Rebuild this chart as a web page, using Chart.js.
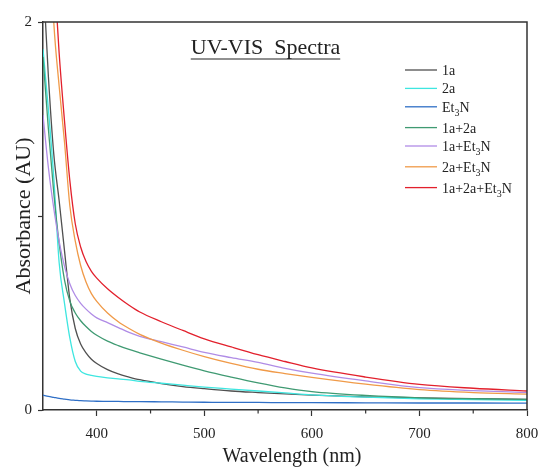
<!DOCTYPE html>
<html>
<head>
<meta charset="utf-8">
<script src="https://cdn.jsdelivr.net/npm/chart.js@4"></script>
<style>
html, body { margin: 0; padding: 0; background: #fff; }
</style>
</head>
<body>
<canvas id="uvChart" width="540" height="468"></canvas>
<script>
// wavelength grid (nm)
const wavelengths = [350, 355, 360, 365, 370, 375, 380, 385, 390, 395, 400, 410, 420, 430, 440, 460, 480, 500, 525, 550, 575, 600, 650, 700, 750, 800];

// absorbance (null = not drawn)
const abs1a      = [2.25, 1.72, 1.32, 1.08, 0.82, 0.57, 0.42, 0.34, 0.295, 0.262, 0.24, 0.208, 0.186, 0.17, 0.156, 0.136, 0.121, 0.11, 0.098, 0.09, 0.083, 0.077, 0.068, 0.062, 0.058, 0.055];
const abs2a      = [1.86, 1.55, 1.20, 0.76, 0.55, 0.37, 0.25, 0.20, 0.185, 0.178, 0.173, 0.166, 0.16, 0.155, 0.148, 0.138, 0.128, 0.118, 0.108, 0.098, 0.088, 0.078, 0.066, 0.058, 0.053, 0.05];
const absEt3N    = [0.077, 0.07, 0.065, 0.06, 0.056, 0.052, 0.05, 0.048, 0.047, 0.046, 0.045, 0.044, 0.044, 0.043, 0.043, 0.042, 0.041, 0.04, 0.039, 0.039, 0.038, 0.038, 0.037, 0.036, 0.036, 0.035];
const abs1a2a    = [1.82, 1.45, 1.12, 0.86, 0.67, 0.56, 0.50, 0.46, 0.43, 0.405, 0.385, 0.355, 0.332, 0.312, 0.295, 0.262, 0.231, 0.202, 0.17, 0.14, 0.114, 0.095, 0.075, 0.063, 0.058, 0.055];
const abs1aEt3N  = [1.52, 1.25, 1.04, 0.87, 0.74, 0.65, 0.59, 0.55, 0.52, 0.495, 0.475, 0.45, 0.425, 0.40, 0.38, 0.352, 0.325, 0.297, 0.27, 0.245, 0.215, 0.19, 0.15, 0.115, 0.10, 0.09];
const abs2aEt3N  = [null, 2.6, 2.0, 1.67, 1.38, 1.05, 0.87, 0.745, 0.66, 0.60, 0.56, 0.50, 0.455, 0.42, 0.39, 0.345, 0.308, 0.275, 0.24, 0.21, 0.188, 0.168, 0.133, 0.105, 0.09, 0.082];
const abs1a2aEt3N = [null, null, 2.3, 1.84, 1.49, 1.18, 0.96, 0.84, 0.765, 0.715, 0.68, 0.625, 0.58, 0.54, 0.505, 0.455, 0.41, 0.367, 0.325, 0.285, 0.25, 0.217, 0.17, 0.132, 0.112, 0.098];

const seriesLabels = ['1a', '2a', 'Et_3N', '1a+2a', '1a+Et_3N', '2a+Et_3N', '1a+2a+Et_3N'];
const seriesColors = ['#505050', '#3ee6e0', '#2f6fc6', '#3f9a72', '#b08ce6', '#f09a48', '#e2202c'];
const seriesValues = [abs1a, abs2a, absEt3N, abs1a2a, abs1aEt3N, abs2aEt3N, abs1a2aEt3N];

const xTickValues = [400, 500, 600, 700, 800];
const yTickLabels = { 0: '0', 1: '', 2: '2' };

const FONT = "'Liberation Serif', 'Times New Roman', serif";

function toPoints(vals) {
    return wavelengths.map((w, i) => ({ x: w, y: vals[i] }));
}

// draws a label where "_3" means subscript 3
function drawRichText(ctx, text, x, y, size) {
    const parts = text.split(/_(\d)/);
    let cx = x;
    parts.forEach((p, i) => {
        const sub = i % 2 === 1;
        ctx.font = (sub ? Math.round(size * 0.7) : size) + 'px ' + FONT;
        ctx.fillText(p, cx, sub ? y + 4 : y);
        cx += ctx.measureText(p).width;
    });
}

const decorations = {
    id: 'decorations',
    afterDraw(chart) {
        const ctx = chart.ctx;
        const area = chart.chartArea;
        const xs = chart.scales.x;
        ctx.save();
        // frame top + right
        ctx.strokeStyle = '#333';
        ctx.lineWidth = 1.5;
        ctx.beginPath();
        ctx.moveTo(area.left, area.top);
        ctx.lineTo(area.right, area.top);
        ctx.lineTo(area.right, area.bottom);
        ctx.stroke();
        // minor ticks
        ctx.lineWidth = 1.2;
        for (let w = 450; w < 800; w += 100) {
            const px = xs.getPixelForValue(w);
            ctx.beginPath();
            ctx.moveTo(px, area.bottom);
            ctx.lineTo(px, area.bottom + 3.5);
            ctx.stroke();
        }
        // x axis title (sits a bit right of centre in the original)
        ctx.fillStyle = '#222';
        ctx.font = '20px ' + FONT;
        ctx.textAlign = 'center';
        ctx.textBaseline = 'middle';
        ctx.fillText('Wavelength (nm)', 292, 457);
        // title with underline
        ctx.font = '22px ' + FONT;
        ctx.textBaseline = 'alphabetic';
        const title = 'UV-VIS  Spectra';
        const tx = 265.5, ty = 54;
        ctx.fillText(title, tx, ty);
        const tw = ctx.measureText(title).width;
        ctx.lineWidth = 1.2;
        ctx.strokeStyle = '#222';
        ctx.beginPath();
        ctx.moveTo(tx - tw / 2, ty + 5);
        ctx.lineTo(tx + tw / 2, ty + 5);
        ctx.stroke();
        // legend
        ctx.textAlign = 'left';
        let ly = 70;
        chart.data.datasets.forEach((ds, i) => {
            ctx.strokeStyle = ds.borderColor;
            ctx.lineWidth = 1.3;
            ctx.beginPath();
            ctx.moveTo(405, ly);
            ctx.lineTo(437, ly);
            ctx.stroke();
            ctx.fillStyle = '#222';
            drawRichText(ctx, seriesLabels[i], 442, ly + 5, 14);
            ly += seriesLabels[i].includes('_') ? 20.8 : 18.4;
        });
        ctx.restore();
    }
};

Chart.defaults.font.family = FONT;
Chart.defaults.color = '#222';

new Chart(document.getElementById('uvChart'), {
    type: 'line',
    data: {
        datasets: seriesValues.map((vals, i) => ({
            label: seriesLabels[i].replace('_', ''),
            data: toPoints(vals),
            borderColor: seriesColors[i],
            backgroundColor: seriesColors[i],
            borderWidth: 1.3,
            pointRadius: 0,
            cubicInterpolationMode: 'monotone',
            order: seriesValues.length - i
        }))
    },
    options: {
        responsive: false,
        animation: false,
        layout: { padding: { top: 22, right: 0, left: 0, bottom: 0 } },
        plugins: {
            legend: { display: false },
            title: { display: false },
            tooltip: { enabled: false }
        },
        scales: {
            x: {
                type: 'linear',
                min: 350,
                max: 800,
                afterFit: s => { s.height = 58; s.paddingLeft = 0; s.paddingRight = 13; },
                afterBuildTicks: s => { s.ticks = [350, 400, 450, 500, 550, 600, 650, 700, 750, 800].map(v => ({ value: v })); },
                ticks: {
                    font: { size: 15 },
                    color: '#222',
                    padding: 9,
                    maxRotation: 0,
                    callback: v => xTickValues.includes(v) ? String(v) : ''
                },
                grid: {
                    drawOnChartArea: false,
                    tickLength: 6,
                    tickWidth: 1.2,
                    tickColor: c => (c.tick && xTickValues.includes(c.tick.value)) ? '#333' : 'rgba(0,0,0,0)'
                },
                border: { display: true, color: '#333', width: 1.5 }
            },
            y: {
                min: 0,
                max: 2,
                afterFit: s => { s.width = 43; },
                afterBuildTicks: s => { s.ticks = [0, 1, 2].map(v => ({ value: v })); },
                ticks: {
                    font: { size: 15 },
                    color: '#222',
                    padding: 6,
                    callback: v => yTickLabels[v]
                },
                grid: {
                    drawOnChartArea: false,
                    tickLength: 5,
                    tickWidth: 1.2,
                    tickColor: '#333'
                },
                border: { display: true, color: '#333', width: 1.5 },
                title: {
                    display: true,
                    text: 'Absorbance (AU)',
                    font: { size: 22 },
                    color: '#222',
                    padding: { top: 11, bottom: 0 }
                }
            }
        }
    },
    plugins: [decorations]
});
</script>
</body>
</html>
